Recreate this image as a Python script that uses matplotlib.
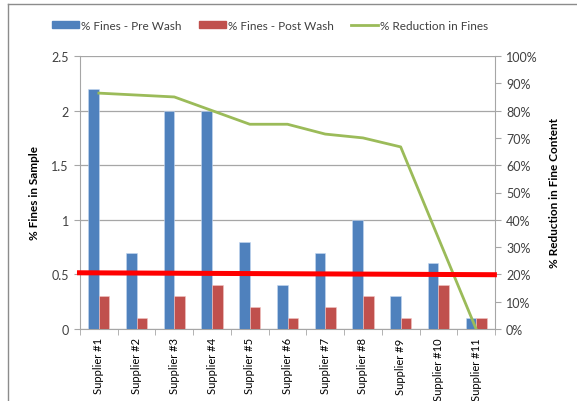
import matplotlib
matplotlib.use("Agg")
import matplotlib.pyplot as plt
import numpy as np
from matplotlib.lines import Line2D
from matplotlib.patches import Patch
from matplotlib.ticker import FuncFormatter, MultipleLocator

plt.rcParams['font.family'] = ['Lato', 'DejaVu Sans']

categories = ["Supplier #1", "Supplier #2", "Supplier #3", "Supplier #4", "Supplier #5",
              "Supplier #6", "Supplier #7", "Supplier #8", "Supplier #9", "Supplier #10",
              "Supplier #11"]
pre_wash = [2.2, 0.7, 2.0, 2.0, 0.8, 0.4, 0.7, 1.0, 0.3, 0.6, 0.1]
post_wash = [0.3, 0.1, 0.3, 0.4, 0.2, 0.1, 0.2, 0.3, 0.1, 0.4, 0.1]
reduction = [0.864, 0.857, 0.85, 0.80, 0.75, 0.75, 0.714, 0.70, 0.667, 0.333, 0.0]
target_x = [-0.58, 10.55]
target_y = [0.515, 0.497]

blue = "#4F81BD"
red = "#C0504D"
green = "#9BBB59"
grid = "#A6A6A6"
txt = "#404040"

W, H = 577, 402
fig = plt.figure(figsize=(W / 100, H / 100), dpi=100)
ax = fig.add_axes([80 / W, (H - 330) / H, (495 - 80) / W, (330 - 57) / H])

x = np.arange(len(categories))
bw = 0.28
ax.bar(x - bw / 2, pre_wash, bw, color=blue, edgecolor="#C6D9F1", linewidth=0.4, zorder=3)
ax.bar(x + bw / 2, post_wash, bw, color=red, edgecolor="#F2C4C3", linewidth=0.4, zorder=3)

ax.set_xlim(-0.5, len(categories) - 0.5)
ax.set_ylim(0, 2.5)
ax.yaxis.set_major_locator(MultipleLocator(0.5))
ax.yaxis.set_major_formatter(FuncFormatter(lambda v, p: f"{v:g}"))
ax.grid(axis="y", color=grid, linewidth=0.9, zorder=0)
ax.set_axisbelow(True)

ax.set_xticks(x)
ax.set_xticklabels(categories, rotation=90, fontsize=8, color="black")
ax.set_xticks(np.arange(-0.5, len(categories), 1), minor=True)
ax.tick_params(axis="x", which="major", length=0, pad=6)
ax.tick_params(axis="x", which="minor", length=4, color=grid, direction="out")
ax.tick_params(axis="y", length=4, color=grid, labelsize=9, labelcolor=txt, pad=4)

for s in ["top", "right"]:
    ax.spines[s].set_visible(False)
for s in ["left", "bottom"]:
    ax.spines[s].set_color(grid)

ax.set_ylabel("% Fines in Sample", fontsize=8.5, fontweight="bold", color="black", labelpad=8)

ax2 = ax.twinx()
ax2.plot(x, reduction, color=green, linewidth=2.0, zorder=4)
ax2.set_ylim(0, 1)
ax2.yaxis.set_major_locator(MultipleLocator(0.1))
ax2.yaxis.set_major_formatter(FuncFormatter(lambda v, p: f"{v * 100:.0f}%"))
ax2.tick_params(axis="y", length=4, color=grid, labelsize=9, labelcolor=txt, pad=4)
for s in ["top", "left", "bottom"]:
    ax2.spines[s].set_visible(False)
ax2.spines["right"].set_color(grid)
ax2.set_ylabel("% Reduction in Fine Content", fontsize=8.5, fontweight="bold", color="black", labelpad=8)
ax2.set_zorder(ax.get_zorder() + 1)
ax2.patch.set_visible(False)

# red threshold line (left-axis values, drawn on top layer)
ax2.plot(target_x, [v / 2.5 for v in target_y], color="#FF0000", linewidth=3.6,
         solid_capstyle="butt", clip_on=False, zorder=6)

handles = [Patch(facecolor=blue, edgecolor=blue), Patch(facecolor=red, edgecolor=red),
           Line2D([0], [0], color=green, linewidth=2.0)]
labels = ["% Fines - Pre Wash", "% Fines - Post Wash", "% Reduction in Fines"]
fig.legend(handles, labels, loc="center", bbox_to_anchor=(270 / W, 1 - 26 / H), ncol=3,
           frameon=False, fontsize=8.5, handlelength=2.3, handleheight=0.55,
           columnspacing=1.5, handletextpad=0.15, labelcolor=txt)

# outer chart frame
fig.add_artist(Line2D([8 / W, 8 / W], [0, 1 - 5 / H], color="#8C8C8C", linewidth=1.0))
fig.add_artist(Line2D([8 / W, 1], [1 - 5 / H, 1 - 5 / H], color="#8C8C8C", linewidth=1.0))

fig.savefig("out.png", dpi=100, facecolor="white")
